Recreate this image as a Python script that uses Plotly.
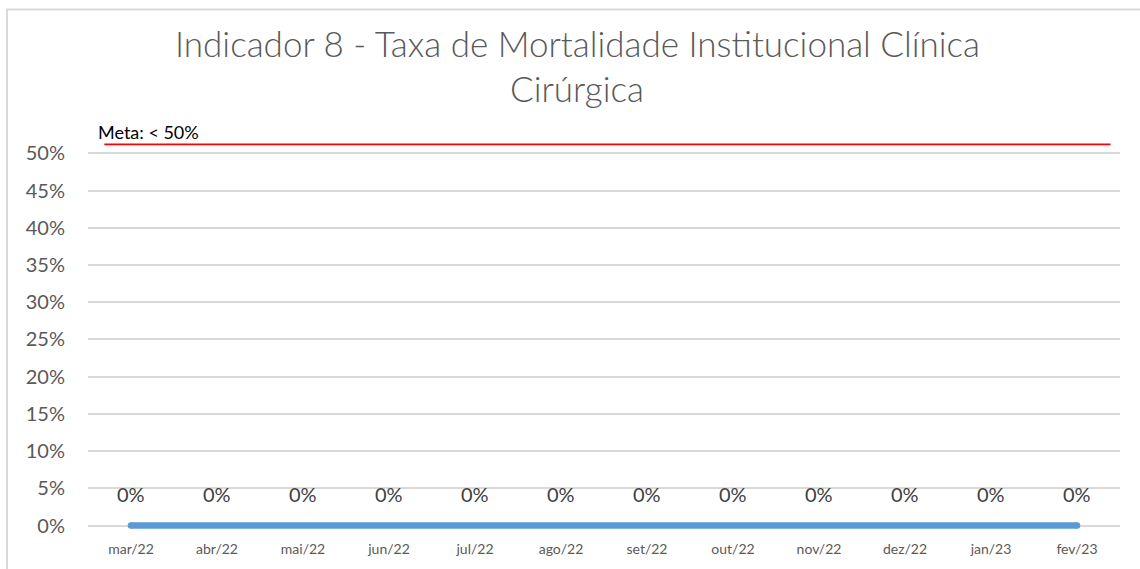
import plotly.graph_objects as go

months = ["mar/22", "abr/22", "mai/22", "jun/22", "jul/22", "ago/22",
          "set/22", "out/22", "nov/22", "dez/22", "jan/23", "fev/23"]
taxa = [0, 0, 0, 0, 0, 0, 0, 0, 0, 0, 0, 0]
meta_value = 0.512
meta_label = "Meta: < 50%"
y_ticks = [0, 0.05, 0.10, 0.15, 0.20, 0.25, 0.30, 0.35, 0.40, 0.45, 0.50]
y_tick_text = ["0%", "5%", "10%", "15%", "20%", "25%", "30%", "35%", "40%", "45%", "50%"]
title_lines = ["Indicador 8 - Taxa de Mortalidade Institucional Clínica", "Cirúrgica"]

FONT = "Lato"
x_idx = list(range(len(months)))

W, H = 1140, 569
L, R, T, B = 88, 20, 130.5, 36.5
plot_h = H - T - B
y_lo, y_hi = -0.006, 0.53

def py(px):
    """pixel row -> paper y"""
    return (H - B - px) / plot_h

fig = go.Figure()
fig.add_trace(go.Scatter(
    x=x_idx, y=taxa, mode="lines",
    line=dict(color="#5B9BD5", width=6.5),
    showlegend=False, hoverinfo="skip",
))
# round end caps
fig.add_trace(go.Scatter(
    x=[x_idx[0], x_idx[-1]], y=[taxa[0], taxa[-1]], mode="markers",
    marker=dict(color="#5B9BD5", size=6.5, line=dict(width=0)),
    cliponaxis=False, showlegend=False, hoverinfo="skip",
))

for xi, v in zip(x_idx, taxa):
    fig.add_annotation(x=xi, y=v, xref="x", yref="y", text=f"{v*100:.0f}%",
                       showarrow=False, yshift=32, yanchor="middle",
                       font=dict(size=20, color="#404040", family=FONT))

# meta line
fig.add_trace(go.Scatter(
    x=[-0.31, 11.39], y=[meta_value, meta_value], mode="lines",
    line=dict(color="#FF0000", width=1.6), showlegend=False, hoverinfo="skip",
))

fig.add_annotation(x=-0.31, y=meta_value, xref="x", yref="y", text=meta_label,
                   showarrow=False, xanchor="left", yanchor="bottom", xshift=-8, yshift=-1,
                   font=dict(size=18, color="#000000", family=FONT))

for line, ypx in zip(title_lines, [42, 87]):
    fig.add_annotation(x=(577 - L) / (W - L - R), y=py(ypx), xref="paper", yref="paper",
                       text=line, showarrow=False, xanchor="center", yanchor="middle",
                       font=dict(size=35, color="#595959", family=FONT, weight=300))

fig.update_layout(
    width=W, height=H,
    margin=dict(l=L, r=R, t=T, b=B),
    paper_bgcolor="white", plot_bgcolor="white",
    xaxis=dict(range=[-0.5, 11.5], tickvals=x_idx, ticktext=months,
               showgrid=False, zeroline=False, showline=False, ticks="",
               ticklabelstandoff=9,
               tickfont=dict(size=14, color="#595959", family=FONT), fixedrange=True),
    yaxis=dict(range=[y_lo, y_hi], tickvals=y_ticks, ticktext=y_tick_text,
               showgrid=True, gridcolor="#D9D9D9", gridwidth=1.5, zeroline=False,
               showline=False, ticks="", ticklabelstandoff=22,
               tickfont=dict(size=20, color="#595959", family=FONT)),
    shapes=[dict(type="rect", xref="paper", yref="paper",
                 x0=(7 - L) / (W - L - R), x1=(1150 - L) / (W - L - R),
                 y0=py(600), y1=py(8),
                 line=dict(color="#D9D9D9", width=2), fillcolor="rgba(0,0,0,0)", layer="below")],
)

fig.write_html("out.html", config={"displayModeBar": False},
               post_script="document.body.style.margin='0';")
